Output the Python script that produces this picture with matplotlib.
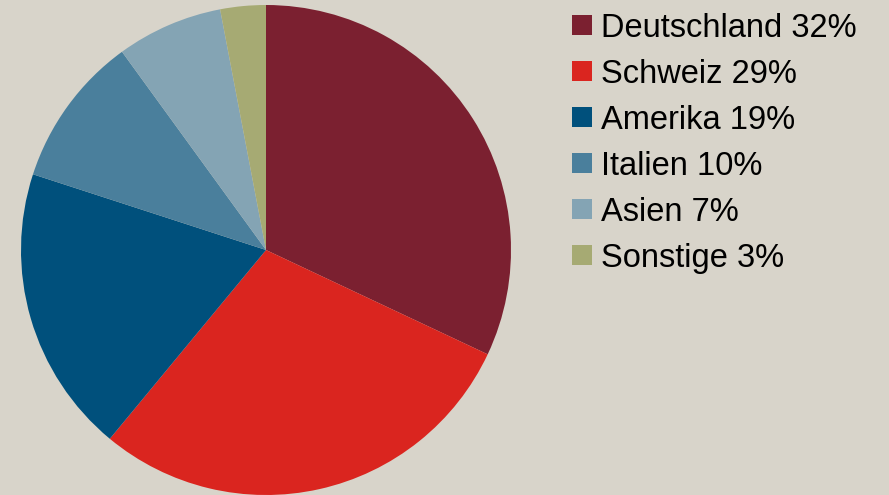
import matplotlib
matplotlib.use("Agg")
import matplotlib.pyplot as plt
from matplotlib.patches import Rectangle

categories = ["Deutschland", "Schweiz", "Amerika", "Italien", "Asien", "Sonstige"]
values = [32, 29, 19, 10, 7, 3]
colors = ["#7B2030", "#DA251F", "#00507C", "#4A7F9C", "#84A4B4", "#A6AA73"]
bg = "#D8D4CA"

W, H = 889, 495
fig = plt.figure(figsize=(W/100, H/100), dpi=100, facecolor=bg)

cx, cy, r = 266, 250, 245
ax = fig.add_axes([(cx - r)/W, (H - cy - r)/H, 2*r/W, 2*r/H])
ax.set_facecolor(bg)
ax.pie(values, colors=colors, startangle=90, counterclock=False, radius=1,
       wedgeprops=dict(linewidth=0))
ax.set_xlim(-1, 1)
ax.set_ylim(-1, 1)
ax.set_aspect("equal")
ax.axis("off")

# legend
y0, dy = 25, 46
for i, (c, v, col) in enumerate(zip(categories, values, colors)):
    yc = y0 + i*dy
    fig.patches.append(Rectangle((572/W, (H - yc - 10)/H), 20/W, 20/H,
                                 transform=fig.transFigure, facecolor=col,
                                 edgecolor="none"))
    fig.text(601/W, (H - yc)/H, f"{c} {v}%", fontsize=23.5, family="Liberation Sans",
             va="center_baseline", ha="left", color="black")

fig.savefig("out.png", dpi=100, facecolor=bg)
